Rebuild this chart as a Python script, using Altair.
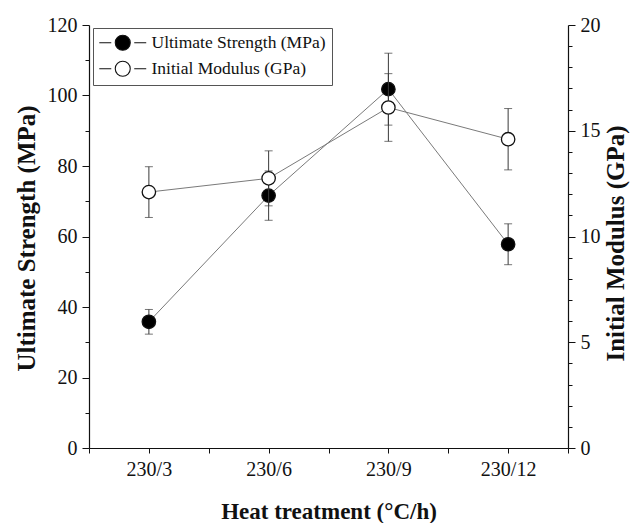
import json
import altair as alt
import pandas as pd

categories = ["230/3", "230/6", "230/9", "230/12"]
positions = [1, 2, 3, 4]
strength = [35.8, 71.6, 101.8, 57.8]
strength_err = [3.5, 7.0, 10.2, 5.8]
modulus = [12.1, 12.75, 16.1, 14.6]
modulus_err = [1.2, 1.3, 1.6, 1.45]
series_names = ["Ultimate Strength (MPa)", "Initial Modulus (GPa)"]
left_ticks = list(range(0, 121, 10))
right_ticks = list(range(0, 21, 1))
x_ticks = [0.5, 1, 1.5, 2, 2.5, 3, 3.5, 4, 4.5]

df_s = pd.DataFrame({
    "pos": positions, "cat": categories, "val": strength,
    "lo": [v - e for v, e in zip(strength, strength_err)],
    "hi": [v + e for v, e in zip(strength, strength_err)],
    "series": series_names[0],
})
df_m = pd.DataFrame({
    "pos": positions, "cat": categories, "val": modulus,
    "lo": [v - e for v, e in zip(modulus, modulus_err)],
    "hi": [v + e for v, e in zip(modulus, modulus_err)],
    "series": series_names[1],
})

FONT = "Liberation Serif"
INK = "#111111"
LINE = "#7a7a7a"
ERR = "#3a3a3a"

x_label_expr = "datum.value % 1 === 0 ? " + json.dumps(categories) + "[datum.value - 1] : ''"
x_axis = alt.Axis(
    values=x_ticks, labelExpr=x_label_expr, title="Heat treatment (°C/h)",
    tickSize=5, labelPadding=6, grid=False, labelAngle=0,
    titleY=70, titleBaseline="alphabetic", titleFontSize=23,
)
x_enc = alt.X("pos:Q", scale=alt.Scale(domain=[0.5, 4.5], nice=False, zero=False), axis=x_axis)

left_scale = alt.Scale(domain=[0, 120], nice=False)
left_axis = alt.Axis(
    values=left_ticks, orient="left",
    labelExpr="datum.value % 20 === 0 ? datum.label : ''",
    tickSize={"condition": {"test": "datum.value % 20 === 0", "value": 7}, "value": 4},
    labelPadding=5, grid=False,
    title="Ultimate Strength (MPa)", titleAngle=270, titleX=-63, titleY=213,
    titleBaseline="middle", titleAlign="center", titleFontSize=25,
)
right_scale = alt.Scale(domain=[0, 20], nice=False)
right_axis = alt.Axis(
    values=right_ticks, orient="right",
    labelExpr="datum.value % 5 === 0 ? datum.label : ''",
    tickSize={"condition": {"test": "datum.value % 5 === 0", "value": 7}, "value": 4},
    labelPadding=5, grid=False,
    title="Initial Modulus (GPa)", titleAngle=270, titleX=47, titleY=218,
    titleBaseline="middle", titleAlign="center", titleFontSize=25,
)

# legend glyph: line - circle - line (circle radius = 1 unit)
legend_path = ("M-3.13,0L-1.53,0M1.53,0L3.13,0M1,0A1,1,0,1,1,-1,0"
               "A1,1,0,1,1,1,0Z")
fill_enc = alt.Fill(
    "series:N",
    scale=alt.Scale(domain=series_names, range=["black", "white"]),
    legend=alt.Legend(
        orient="none", legendX=4, legendY=3, title=None,
        symbolType=legend_path, symbolSize=225, symbolStrokeColor=INK,
        symbolStrokeWidth=1.1, symbolOffset=15, labelFont=FONT, labelFontSize=17.5,
        labelColor=INK, labelOffset=20, labelLimit=0, strokeColor="#555555",
        padding=6, rowPadding=6,
    ),
)


def group(df, yscale, yaxis):
    y_val = alt.Y("val:Q", scale=yscale, axis=yaxis)
    y_lo = alt.Y("lo:Q", scale=yscale, axis=yaxis)
    y_hi = alt.Y("hi:Q", scale=yscale, axis=yaxis)
    base = alt.Chart(df)
    line = base.mark_line(color=LINE, strokeWidth=1).encode(x=x_enc, y=y_val)
    err = base.mark_rule(color=ERR, strokeWidth=1).encode(x=x_enc, y=y_lo, y2="hi:Q")
    cap_lo = base.mark_tick(color=ERR, orient="horizontal", size=8, thickness=1).encode(x=x_enc, y=y_lo)
    cap_hi = base.mark_tick(color=ERR, orient="horizontal", size=8, thickness=1).encode(x=x_enc, y=y_hi)
    pts = base.mark_point(shape="circle", filled=True, size=180, stroke=INK,
                          strokeWidth=1.3, opacity=1).encode(x=x_enc, y=y_val, fill=fill_enc)
    return alt.layer(line, err, cap_lo, cap_hi, pts)


left = group(df_s, left_scale, left_axis)
right = group(df_m, right_scale, right_axis)

chart = alt.layer(left, right).resolve_scale(y="independent").properties(
    width=479, height=423,
    autosize=alt.AutoSizeParams(type="none"),
    padding={"left": 89, "top": 25, "right": 62, "bottom": 75},
    background="white",
).configure_view(stroke=None).configure_axis(
    labelFont=FONT, labelFontSize=20, labelColor=INK,
    titleFont=FONT, titleFontWeight="bold", titleColor=INK,
    domainColor=INK, domainWidth=1.2, tickColor=INK, tickWidth=1,
)

chart.save("out.html", embed_options={"renderer": "svg", "actions": False})
